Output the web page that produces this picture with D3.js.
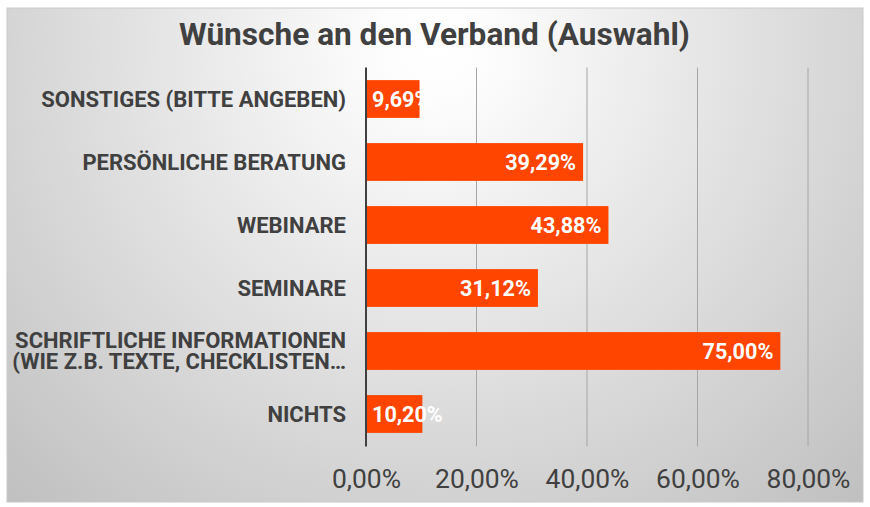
<!DOCTYPE html>
<html>
<head>
<meta charset="utf-8">
<script src="https://cdn.jsdelivr.net/npm/d3@7"></script>
<style>
  html, body { margin: 0; padding: 0; background: #ffffff; }
  svg { display: block; }
  text { font-family: Roboto, "Noto Sans", sans-serif; }
</style>
</head>
<body>
<svg id="chart" width="870" height="507"></svg>
<script>
const titleText = "Wünsche an den Verband (Auswahl)";
const categories = [
  ["SONSTIGES (BITTE ANGEBEN)"],
  ["PERSÖNLICHE BERATUNG"],
  ["WEBINARE"],
  ["SEMINARE"],
  ["SCHRIFTLICHE INFORMATIONEN", "(WIE Z.B. TEXTE, CHECKLISTEN…"],
  ["NICHTS"]
];
const values = [9.69, 39.29, 43.88, 31.12, 75.00, 10.20];
const tickValues = [0, 20, 40, 60, 80];

const fmt = v => v.toFixed(2).replace(".", ",") + "%";

const svg = d3.select("#chart");
const box = {x: 7, y: 8, w: 856, h: 494};

const defs = svg.append("defs");
const grad = defs.append("radialGradient")
  .attr("id", "bg").attr("gradientUnits", "userSpaceOnUse")
  .attr("cx", 435).attr("cy", 45).attr("r", 650);
grad.append("stop").attr("offset", "0").attr("stop-color", "#ffffff");
grad.append("stop").attr("offset", "0.08").attr("stop-color", "#fdfdfd");
grad.append("stop").attr("offset", "1").attr("stop-color", "#bdbdbd");

svg.append("rect")
  .attr("x", box.x).attr("y", box.y).attr("width", box.w).attr("height", box.h)
  .attr("fill", "url(#bg)").attr("stroke", "#c9c9c9").attr("stroke-width", 1);

svg.append("text")
  .attr("x", 434.5).attr("y", 45)
  .attr("text-anchor", "middle")
  .attr("font-size", 31.6).attr("font-weight", 700)
  .attr("fill", "#404040")
  .text(titleText);

const x = d3.scaleLinear().domain([0, 80]).range([366, 808]);
const idx = categories.map((c, i) => i);
const y = d3.scaleBand().domain(idx).range([67.5, 445.5]).paddingInner(0.4).paddingOuter(0.2);

// gridlines
svg.append("g").selectAll("line").data(tickValues.filter(t => t > 0)).join("line")
  .attr("x1", d => x(d)).attr("x2", d => x(d))
  .attr("y1", 67.5).attr("y2", 446.5)
  .attr("stroke", "#a6a6a6").attr("stroke-width", 1);

// bars
svg.append("g").selectAll("rect").data(values).join("rect")
  .attr("x", x(0)).attr("y", (d, i) => y(i))
  .attr("width", d => x(d) - x(0)).attr("height", y.bandwidth())
  .attr("fill", "#ff4500");

// axis line at zero
svg.append("line")
  .attr("x1", x(0)).attr("x2", x(0)).attr("y1", 67.5).attr("y2", 446.5)
  .attr("stroke", "#404040").attr("stroke-width", 2);

// x-axis tick labels via d3 axis
const xAxis = d3.axisBottom(x).tickValues(tickValues).tickFormat(fmt).tickSize(0).tickPadding(0);
const gx = svg.append("g").attr("transform", "translate(0,488)").call(xAxis);
gx.select(".domain").remove();
gx.selectAll("text")
  .attr("font-family", "Roboto, sans-serif")
  .attr("font-size", 26.4).attr("fill", "#404040").attr("dy", "0");

// category labels
const catG = svg.append("g");
categories.forEach((lines, i) => {
  const cy = y(i) + y.bandwidth() / 2;
  const lh = 21;
  const t = catG.append("text")
    .attr("text-anchor", "end")
    .attr("font-size", 22).attr("font-weight", 700)
    .attr("fill", "#404040");
  lines.forEach((ln, j) => {
    t.append("tspan")
      .attr("x", 346)
      .attr("y", cy + (j - (lines.length - 1) / 2) * lh)
      .attr("dy", "0.36em")
      .text(ln);
  });
});

// value labels
svg.append("g").selectAll("text").data(values).join("text")
  .attr("font-size", 21.6).attr("font-weight", 700).attr("fill", "#ffffff")
  .attr("dy", "0.36em")
  .attr("y", (d, i) => y(i) + y.bandwidth() / 2)
  .each(function(d) {
    const el = d3.select(this).text(fmt(d));
    const w = this.getComputedTextLength();
    let endX = x(d) - 7;
    if (endX - w < x(0) + 6) {
      el.attr("x", x(0) + 6).attr("text-anchor", "start");
    } else {
      el.attr("x", endX).attr("text-anchor", "end");
    }
  });
</script>
</body>
</html>
